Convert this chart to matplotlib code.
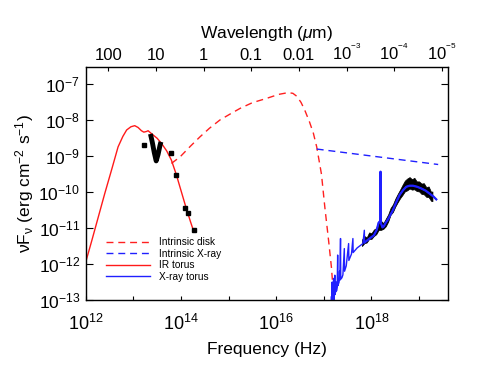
import numpy as np
import matplotlib
matplotlib.use('Agg')
import matplotlib.pyplot as plt

plt.rcParams['font.family'] = ['Liberation Sans', 'DejaVu Sans']
plt.rcParams['mathtext.fontset'] = 'custom'
plt.rcParams['mathtext.rm'] = 'Liberation Sans'
plt.rcParams['mathtext.it'] = 'Liberation Sans:italic'
plt.rcParams['mathtext.default'] = 'rm'

# --- data (log10 nu [Hz], log10 nuFnu [erg cm-2 s-1]) ---
ir_nu = [12.00, 12.13, 12.40, 12.55, 12.68, 12.78, 12.86, 12.95, 13.03, 13.10, 13.17, 13.22,
         13.28, 13.31, 13.38, 13.50, 13.59, 13.70, 13.80, 13.90, 14.00, 14.10, 14.20, 14.27]
ir_f = [-11.95, -11.34, -10.04, -9.35, -8.74, -8.45, -8.27, -8.18, -8.15, -8.20, -8.29, -8.33,
        -8.31, -8.29, -8.37, -8.50, -8.64, -8.85, -9.11, -9.50, -9.95, -10.40, -10.82, -11.10]

disk_nu = [13.80, 13.98, 14.20, 14.40, 14.60, 14.82, 15.04, 15.24, 15.50, 15.80, 16.05, 16.25,
           16.35, 16.43, 16.52, 16.60, 16.70, 16.78, 16.85, 16.95, 17.02, 17.10, 17.16, 17.21]
disk_f = [-9.20, -9.02, -8.72, -8.46, -8.22, -7.99, -7.82, -7.67, -7.51, -7.39, -7.28, -7.23,
          -7.25, -7.33, -7.50, -7.72, -8.05, -8.36, -8.74, -9.50, -10.41, -11.35, -12.10, -13.0]

xint_nu = [16.85, 19.40]
xint_f = [-8.80, -9.23]

xt_nu = [17.150, 17.160, 17.165, 17.175, 17.180, 17.190, 17.195, 17.205, 17.210, 17.220,
         17.230, 17.235, 17.250, 17.260, 17.265, 17.280, 17.290, 17.295, 17.320, 17.330,
         17.335, 17.350, 17.355, 17.380, 17.400, 17.430, 17.435, 17.470, 17.520, 17.525,
         17.580, 17.610, 17.615, 17.700, 17.820, 17.850, 17.855, 17.950, 18.050, 18.110,
         18.150, 18.185, 18.190, 18.195, 18.230, 18.260, 18.300, 18.350, 18.450, 18.520,
         18.590, 18.660, 18.730, 18.800, 18.870, 18.960, 19.050, 19.140, 19.220, 19.300, 19.360]
xt_f = [-13.3, -12.9, -13.3, -12.5, -13.2, -12.6, -13.1, -12.4, -13.0, -12.8,
        -12.31, -12.85, -12.75, -12.5, -12.75, -12.65, -11.75, -12.6, -12.5, -12.2,
        -12.45, -11.29, -12.42, -12.38, -12.30, -11.57, -12.2, -12.05, -11.43, -11.9,
        -11.72, -11.29, -11.68, -11.55, -11.43, -11.06, -11.40, -11.30, -11.20, -11.05,
        -10.85, -10.80, -9.43, -10.85, -10.98, -10.95, -10.85, -10.75, -10.50, -10.28,
        -10.08, -9.95, -9.85, -9.82, -9.82, -9.85, -9.90, -9.96, -10.04, -10.12, -10.20]

# observed X-ray spectrum envelope (jagged edges read by eye)
xobs_nu = [17.80, 17.85, 17.90, 17.95, 18.00, 18.05, 18.10, 18.15, 18.20, 18.25, 18.30, 18.35,
           18.40, 18.45, 18.50, 18.55, 18.60, 18.65, 18.70, 18.75, 18.80, 18.85, 18.90, 18.95,
           19.00, 19.05, 19.10, 19.15, 19.20, 19.25, 19.28]
xobs_lo = [-11.50, -11.42, -11.40, -11.30, -11.30, -11.22, -11.17, -11.05, -11.05, -11.02, -10.95,
           -10.82, -10.63, -10.55, -10.40, -10.28, -10.17, -10.08, -9.98, -9.95, -9.90, -9.93,
           -9.92, -9.97, -9.98, -10.05, -10.06, -10.13, -10.14, -10.24, -10.25]
xobs_hi = [-11.32, -11.22, -11.26, -11.12, -11.14, -11.04, -11.00, -10.86, -10.80, -10.86, -10.74,
           -10.62, -10.44, -10.34, -10.18, -10.05, -9.93, -9.80, -9.68, -9.62, -9.58, -9.64,
           -9.60, -9.70, -9.70, -9.76, -9.75, -9.86, -9.84, -9.99, -9.98]

# IRS spectrum
irs_nu = [13.36, 13.40, 13.44, 13.48, 13.52, 13.56, 13.58]
irs_f = [-8.38, -8.62, -8.90, -9.13, -8.95, -8.70, -8.60]

# photometry
phot_nu = [13.22, 13.80, 13.89, 14.08, 14.15, 14.27]
phot_f = [-8.68, -8.92, -9.53, -10.43, -10.58, -11.04]
phot_err = [0.06, 0, 0, 0, 0, 0]

wl_ticks = [100, 10, 1, 0.1, 0.01, 1e-3, 1e-4, 1e-5]
wl_labels = ['100', '10', '1', '0.1', '0.01', r'$10^{^{-3}}$', r'$10^{^{-4}}$', r'$10^{^{-5}}$']

p = lambda a: 10**np.array(a)

fig = plt.figure(figsize=(4.91, 3.68), dpi=100)
ax = fig.add_axes([0.1745, 0.1848, 0.7373, 0.6323])

ax.plot(p(disk_nu), p(disk_f), color='#ff2020', lw=1.0, dashes=(5, 3.5), label='Intrinsic disk')
ax.plot(p(xint_nu), p(xint_f), color='#2020ff', lw=1.0, dashes=(5, 3.5), label='Intrinsic X-ray')
ax.plot(p(ir_nu), p(ir_f), color='#ff1a1a', lw=1.0, label='IR torus')
ax.fill_between(p(xobs_nu), p(xobs_lo), p(xobs_hi), color='black', lw=0.5, edgecolor='black')
ax.plot(p(xt_nu), p(xt_f), color='#2020ff', lw=1.0, label='X-ray torus')
ax.plot(p(xt_nu[36:]), p(xt_f[36:]), color='#2020ff', lw=1.6)
ax.plot(p(irs_nu), p(irs_f), color='black', lw=3.5, solid_capstyle='butt')
pf = p(phot_f)
ax.errorbar(p(phot_nu), pf, yerr=[pf - p(np.array(phot_f) - phot_err), p(np.array(phot_f) + phot_err) - pf],
            fmt='s', color='black', ms=3, elinewidth=0.8, capsize=0)

ax.set_xscale('log')
ax.set_yscale('log')
ax.set_xlim(1e12, 10**19.6)
ax.set_ylim(1e-13, 10**-6.526)
ax.set_xticks([10.0**k for k in range(12, 20)])
ax.set_xticklabels([r'$10^{%d}$' % k if k % 2 == 0 else '' for k in range(12, 20)])
ax.set_yticks([10.0**k for k in range(-13, -6)])
ax.set_yticklabels([r'$10^{%d}$' % k for k in range(-13, -6)])
ax.minorticks_off()
ax.tick_params(axis='x', which='major', direction='in', length=3, width=0.8, labelsize=13, pad=10, top=False)
ax.tick_params(axis='y', which='major', direction='in', length=5, width=0.8, labelsize=12.5, right=True, pad=4)
for s in ax.spines.values():
    s.set_linewidth(1.0)
    s.set_color('#333333')
ax.set_xlabel('Frequency (Hz)', fontsize=12.5, labelpad=6)
ax.set_ylabel(r'$\nu$F$_{\nu}$ (erg cm$^{-2}$ s$^{-1}$)', fontsize=12.5, labelpad=2)

ax2 = ax.twiny()
ax2.set_xscale('log')
c = 2.998e14
ax2.set_xlim(c / 1e12, c / 10**19.6)
ax2.set_xticks(wl_ticks)
ax2.set_xticklabels(wl_labels)
ax2.minorticks_off()
ax2.tick_params(axis='x', direction='in', length=3, width=0.8, labelsize=12, pad=3)
ax2.set_xlabel(r'Wavelength ($\mathit{\mu}$m)', fontsize=12.5, labelpad=3)

leg = ax.legend(loc='upper left', bbox_to_anchor=(0.055, 0.27), frameon=False, fontsize=7.3,
                handlelength=4.4, handletextpad=0.9, labelspacing=0.15, borderaxespad=0, borderpad=0)

fig.savefig('out.png', dpi=100)
